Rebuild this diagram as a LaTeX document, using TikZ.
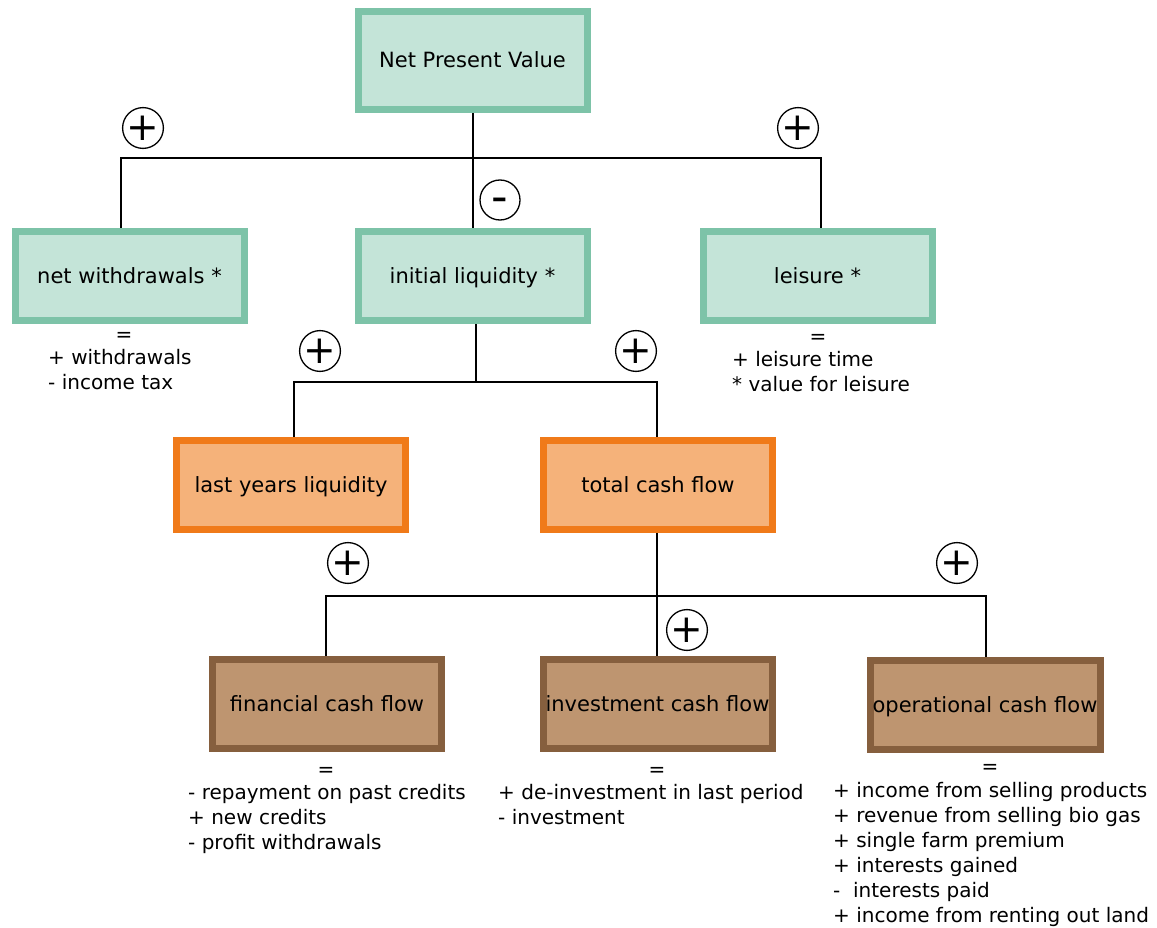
\documentclass[tikz,border=0pt]{standalone}
\usepackage{fontspec}
\setmainfont{DejaVu Sans}
\definecolor{gbord}{HTML}{7DC3A8}
\definecolor{gfill}{HTML}{C4E4D8}
\definecolor{obord}{HTML}{F07A19}
\definecolor{ofill}{HTML}{F5B27A}
\definecolor{bbord}{HTML}{865F3E}
\definecolor{bfill}{HTML}{BE9570}
\begin{document}
\begin{tikzpicture}[x=1pt,y=-1pt,
  box/.style={rectangle, line width=7pt, inner sep=0pt, minimum width=229pt, minimum height=89pt,
    font=\fontsize{21}{25}\selectfont, text height=18pt, text depth=3pt},
  gbox/.style={box, draw=gbord, fill=gfill},
  obox/.style={box, draw=obord, fill=ofill},
  bbox/.style={box, draw=bbord, fill=bfill},
  sign/.style={circle, draw, line width=1.3pt, minimum size=40pt, inner sep=0pt, fill=white,
    font=\fontsize{39}{39}\selectfont},
  msign/.style={sign, font=\fontsize{46}{46}\selectfont, text height=25.2pt, text depth=0pt},
  conn/.style={line width=1.3pt},
  item/.style={anchor=base west, inner sep=0pt, font=\fontsize{20}{24}\selectfont},
  eq/.style={anchor=base, inner sep=0pt, font=\fontsize{20}{24}\selectfont}]
\useasboundingbox (0,0) rectangle (1157,928);

% boxes
\node[gbox, minimum height=98pt] (npv) at (472.5,60.5) {Net Present Value};
\node[gbox] (nw) at (129.5,276) {net withdrawals *};
\node[gbox] (il) at (472.5,276) {initial liquidity *};
\node[gbox] (le) at (817.5,276) {leisure *};
\node[obox] (ll) at (291,485) {last years liquidity};
\node[obox] (tcf) at (658,485) {total cash flow};
\node[bbox] (fcf) at (327,704) {financial cash flow};
\node[bbox] (ic) at (657.5,704) {investment cash flow};
\node[bbox, minimum width=230pt] (ocf) at (985,705) {operational cash flow};

% junction coordinates
\coordinate (j1) at (473,158);
\coordinate (j2) at (476,382);
\coordinate (j3) at (657,596);

% connectors
\draw[conn] ([xshift=0.5pt]npv.south) -- ([xshift=0.5pt]il.north);
\draw[conn] ([xshift=-8.5pt]nw.north) |- (j1) -| ([xshift=3.5pt]le.north);
\draw[conn] ([xshift=3.5pt]il.south) -- (j2);
\draw[conn] ([xshift=3pt]ll.north) |- (j2) -| ([xshift=-1pt]tcf.north);
\draw[conn] ([xshift=-1pt]tcf.south) -- ([xshift=-0.5pt]ic.north);
\draw[conn] ([xshift=-1pt]fcf.north) |- (j3) -| ([xshift=1pt]ocf.north);

% signs
\node[sign] (s1) at (143,128) {+};
\node[sign] (s2) at (798,128) {+};
\node[msign] (s3) at (500,200) {-};
\node[sign] (s4) at (320,351) {+};
\node[sign] (s5) at (636,351) {+};
\node[sign] (s6) at (348,563) {+};
\node[sign] (s7) at (957,563) {+};
\node[sign] (s8) at (687,630) {+};

% definitions
\node[eq] (nweq) at (124,341) {=};
\node[item] (nw1) at (48,364) {+ withdrawals};
\node[item] (nw2) at (48,389) {- income tax};

\node[eq] (leeq) at (818,343) {=};
\node[item] (le1) at (732,366) {+ leisure time};
\node[item] (le2) at (732,391) {* value for leisure};

\node[eq] (fcfeq) at (326,776) {=};
\node[item] (fcf1) at (188,799) {- repayment on past credits};
\node[item] (fcf2) at (188,824) {+ new credits};
\node[item] (fcf3) at (188,849) {- profit withdrawals};

\node[eq] (iceq) at (657,776) {=};
\node[item] (ic1) at (498,799) {+ de-investment in last period};
\node[item] (ic2) at (498,824) {- investment};

\node[eq] (ocfeq) at (990,773) {=};
\node[item] (ocf1) at (833,797) {+ income from selling products};
\node[item] (ocf2) at (833,822) {+ revenue from selling bio gas};
\node[item] (ocf3) at (833,847) {+ single farm premium};
\node[item] (ocf4) at (833,872) {+ interests gained};
\node[item] (ocf5) at (833,897) {-\ \ interests paid};
\node[item] (ocf6) at (833,922) {+ income from renting out land};
\end{tikzpicture}
\end{document}
